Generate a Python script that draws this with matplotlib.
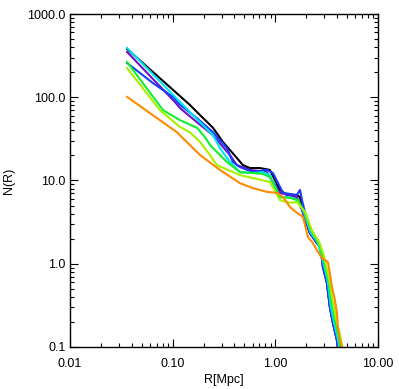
import numpy as np
import matplotlib
matplotlib.use("Agg")
import matplotlib.pyplot as plt
from matplotlib.ticker import FixedLocator, FixedFormatter, LogLocator, NullFormatter

plt.rcParams['font.family'] = ['Liberation Sans', 'DejaVu Sans']

# N(R) profiles, R in Mpc
black_r = [0.036, 0.147, 0.185, 0.247, 0.309, 0.423, 0.484, 0.566, 0.708, 0.885, 1.11, 1.30, 1.62, 1.74,
           1.86, 2.17, 2.54, 2.72, 2.84, 2.91, 3.18, 3.40, 3.64, 3.98, 4.07]
black_n = [380, 81, 61, 43, 29, 18.6, 15.3, 14.1, 14.1, 13.4, 7.7, 6.7, 6.7, 6.3,
           4.1, 2.34, 1.77, 1.6, 1.17, 0.91, 0.59, 0.30, 0.194, 0.121, 0.1]

purple_r = [0.036, 0.105, 0.118, 0.173, 0.247, 0.361, 0.423, 0.566, 0.828, 1.11, 1.62,
            1.86, 2.17, 2.54, 2.72, 2.84, 2.91, 3.18, 3.40, 3.64, 3.98, 4.05]
purple_n = [350, 88, 74, 50, 35, 20.2, 15.3, 13.4, 12.6, 7.1, 6.3,
            4.1, 2.34, 1.77, 1.72, 1.17, 0.91, 0.59, 0.30, 0.194, 0.121, 0.1]

blue_r = [0.036, 0.0643, 0.1007, 0.118, 0.173, 0.247, 0.338, 0.386, 0.452, 0.605, 0.828, 0.948, 1.19,
          1.62, 1.74, 1.82, 2.17, 2.54, 2.72, 2.84, 2.91, 3.18, 3.40, 3.64, 3.98, 4.1]
blue_n = [258, 148, 101, 81, 56, 38, 24.5, 16.7, 14.5, 12.6, 13.4, 12.3, 7.1,
          6.7, 7.7, 5.8, 2.4, 1.8, 1.65, 1.2, 0.93, 0.6, 0.31, 0.2, 0.124, 0.1]

cyan_r = [0.036, 0.118, 0.185, 0.247, 0.289, 0.361, 0.452, 0.605, 0.757, 0.885, 1.11, 1.39, 1.66,
          1.9, 2.2, 2.58, 2.85, 3.25, 3.47, 3.72, 4.06, 4.2]
cyan_n = [391, 88, 50, 35, 24.5, 16.7, 12.6, 12.3, 12.6, 11.6, 6.3, 6.3, 5.8,
          4.1, 2.4, 1.8, 1.2, 0.6, 0.31, 0.2, 0.125, 0.1]

green_r = [0.036, 0.0806, 0.118, 0.173, 0.207, 0.231, 0.289, 0.338, 0.452, 0.605, 0.757, 0.885, 1.11,
           1.39, 1.66, 1.92, 2.24, 2.62, 2.9, 3.3, 3.55, 3.8, 4.15, 4.3]
green_n = [265, 70, 53, 43, 33, 26.7, 20.2, 16.7, 12.6, 12.3, 12.0, 11.0, 6.3,
           6.2, 5.8, 4.2, 2.5, 1.8, 1.25, 0.62, 0.33, 0.21, 0.13, 0.1]

ygreen_r = [0.036, 0.0751, 0.118, 0.147, 0.185, 0.231, 0.270, 0.452, 0.605, 0.885, 1.11, 1.39, 1.62,
            1.95, 2.28, 2.66, 2.95, 3.36, 3.62, 3.9, 4.3, 4.5]
ygreen_n = [224, 70, 44, 38, 29, 20.2, 15.3, 11.6, 10.7, 9.6, 5.8, 5.4, 5.5,
            4.2, 2.5, 1.85, 1.3, 0.65, 0.36, 0.22, 0.135, 0.1]

orange_r = [0.036, 0.11, 0.185, 0.289, 0.452, 0.605, 0.828, 1.04, 1.19, 1.39, 1.62, 1.86, 2.08,
            2.32, 2.54, 2.84, 3.04, 3.25, 3.40, 3.56, 3.80, 3.98, 4.07, 4.26, 4.45]
orange_n = [101, 38, 20.2, 13.4, 9.3, 8.1, 7.3, 7.1, 6.3, 4.8, 4.1, 3.65, 2.09,
            1.77, 1.46, 1.17, 1.11, 1.05, 0.77, 0.53, 0.37, 0.26, 0.174, 0.121, 0.1]

series = [
    (black_r, black_n, '#000000'),
    (purple_r, purple_n, '#6a12c8'),
    (blue_r, blue_n, '#1a3cff'),
    (cyan_r, cyan_n, '#00e4f4'),
    (green_r, green_n, '#10f030'),
    (ygreen_r, ygreen_n, '#a8f000'),
    (orange_r, orange_n, '#ff8a00'),
]

fig = plt.figure(figsize=(3.99, 3.89), dpi=100)
ax = fig.add_axes([0.1754, 0.108, 0.7719, 0.856])

for r, n, c in series:
    ax.plot(r, n, color=c, lw=1.5)

ax.set_xscale('log')
ax.set_yscale('log')
ax.set_xlim(0.01, 10)
ax.set_ylim(0.1, 1000)

ax.xaxis.set_major_locator(FixedLocator([0.01, 0.1, 1, 10]))
ax.xaxis.set_major_formatter(FixedFormatter(['0.01', '0.10', '1.00', '10.00']))
ax.yaxis.set_major_locator(FixedLocator([0.1, 1, 10, 100, 1000]))
ax.yaxis.set_major_formatter(FixedFormatter(['0.1', '1.0', '10.0', '100.0', '1000.0']))
ax.xaxis.set_minor_locator(LogLocator(base=10, subs=np.arange(2, 10)))
ax.yaxis.set_minor_locator(LogLocator(base=10, subs=np.arange(2, 10)))
ax.xaxis.set_minor_formatter(NullFormatter())
ax.yaxis.set_minor_formatter(NullFormatter())

ax.tick_params(which='both', direction='in', top=True, right=True, width=0.8, labelsize=9)
ax.tick_params(which='major', length=6)
ax.tick_params(which='minor', length=3)
ax.tick_params(axis='x', pad=8)
ax.tick_params(axis='y', pad=3)
for s in ax.spines.values():
    s.set_linewidth(1.0)

ax.set_xlabel('R[Mpc]', fontsize=9, labelpad=3)
ax.set_ylabel('N(R)', fontsize=9, labelpad=9)

fig.savefig('out.png', dpi=100)
